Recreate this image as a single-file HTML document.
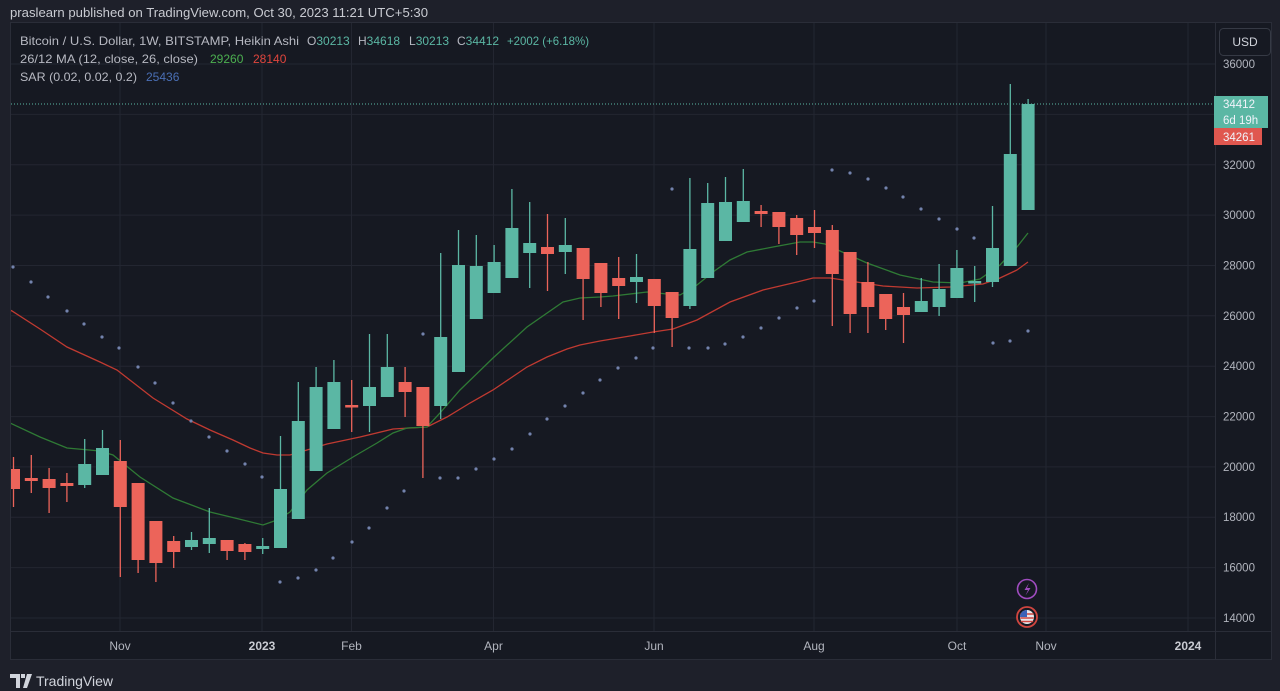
<!DOCTYPE html>
<html><head><meta charset="utf-8"><style>
html,body{margin:0;padding:0;background:#1e202a;}
svg{display:block;font-family:"Liberation Sans",sans-serif;}
</style></head><body>
<svg width="1280" height="691" viewBox="0 0 1280 691" xmlns="http://www.w3.org/2000/svg">
<rect x="0" y="0" width="1280" height="691" fill="#1e202a"/>
<text x="10" y="17" font-size="13" fill="#c9cbd2" textLength="418" lengthAdjust="spacingAndGlyphs">praslearn published on TradingView.com, Oct 30, 2023 11:21 UTC+5:30</text>
<rect x="10.5" y="22.5" width="1261" height="637" fill="#161922" stroke="#2a2d38"/>
<defs><clipPath id="pc"><rect x="11" y="23" width="1204" height="608"/></clipPath></defs>
<g stroke="#232631" stroke-width="1">
<path d="M11 618H1215M11 567.6H1215M11 517.3H1215M11 466.9H1215M11 416.6H1215M11 366.2H1215M11 315.8H1215M11 265.5H1215M11 215.1H1215M11 164.8H1215M11 114.4H1215M11 64H1215"/>
<path d="M120 23V631M262 23V631M351.5 23V631M493.5 23V631M654 23V631M814 23V631M957 23V631M1046 23V631M1188 23V631"/>
</g>
<g stroke="#2a2d38"><path d="M1215.5 23V660M11 631.5H1271"/></g>
<g clip-path="url(#pc)">
<path d="M11 104H1215" stroke="#5bb7a4" stroke-width="1" stroke-dasharray="1 2"/>
<polyline fill="none" stroke="#c03a31" stroke-width="1.3" points="10,310 12,311 40,329 67,347 100,362 117,370 135,384 153,398 187,419 210,430 233,440 250,448 263,453 277,455 290,455 307,450 327,444 360,437 393,429 410,428 427,427 447,417 470,403 493,390 527,367 547,357 567,349 580,345 600,341 630,336 653,332 673,329 697,320 730,302 763,290 797,282 813,278 830,278 850,281 883,286 917,288 950,287 983,284 1000,278 1017,270 1028,262"/>
<polyline fill="none" stroke="#2f7a35" stroke-width="1.3" points="10,423 40,437 67,448 100,451 113,455 140,477 173,498 210,512 243,520 263,525 277,520 290,512 307,490 327,473 353,457 377,443 393,433 407,428 427,427 440,413 460,390 493,358 527,327 563,302 580,298 600,297 613,296 647,292 667,294 680,295 697,285 713,272 730,260 747,252 773,247 800,242 813,242 825,244 840,251 867,263 900,275 933,282 960,283 980,279 1000,265 1017,247 1028,233"/>
<g fill="#7383ad">
<circle cx="13" cy="267" r="1.6"/><circle cx="31" cy="282" r="1.6"/><circle cx="48" cy="297" r="1.6"/><circle cx="67" cy="311" r="1.6"/><circle cx="84" cy="324" r="1.6"/><circle cx="102" cy="337" r="1.6"/><circle cx="119" cy="348" r="1.6"/><circle cx="138" cy="367" r="1.6"/><circle cx="155" cy="383" r="1.6"/><circle cx="173" cy="403" r="1.6"/><circle cx="191" cy="421" r="1.6"/><circle cx="209" cy="437" r="1.6"/><circle cx="227" cy="451" r="1.6"/><circle cx="245" cy="464" r="1.6"/><circle cx="262" cy="477" r="1.6"/>
<circle cx="280" cy="582" r="1.6"/><circle cx="298" cy="578" r="1.6"/><circle cx="316" cy="570" r="1.6"/><circle cx="333" cy="558" r="1.6"/><circle cx="352" cy="542" r="1.6"/><circle cx="369" cy="528" r="1.6"/><circle cx="387" cy="508" r="1.6"/><circle cx="404" cy="491" r="1.6"/>
<circle cx="423" cy="334" r="1.6"/>
<circle cx="440" cy="478" r="1.6"/><circle cx="458" cy="478" r="1.6"/><circle cx="476" cy="469" r="1.6"/><circle cx="494" cy="459" r="1.6"/><circle cx="512" cy="449" r="1.6"/><circle cx="530" cy="434" r="1.6"/><circle cx="547" cy="419" r="1.6"/><circle cx="565" cy="406" r="1.6"/><circle cx="583" cy="393" r="1.6"/><circle cx="600" cy="380" r="1.6"/><circle cx="618" cy="368" r="1.6"/><circle cx="636" cy="358" r="1.6"/><circle cx="653" cy="348" r="1.6"/>
<circle cx="672" cy="189" r="1.6"/>
<circle cx="689" cy="348" r="1.6"/><circle cx="708" cy="348" r="1.6"/><circle cx="725" cy="344" r="1.6"/><circle cx="743" cy="337" r="1.6"/><circle cx="761" cy="328" r="1.6"/><circle cx="779" cy="318" r="1.6"/><circle cx="797" cy="308" r="1.6"/><circle cx="814" cy="301" r="1.6"/>
<circle cx="832" cy="170" r="1.6"/><circle cx="850" cy="173" r="1.6"/><circle cx="868" cy="179" r="1.6"/><circle cx="886" cy="188" r="1.6"/><circle cx="903" cy="197" r="1.6"/><circle cx="921" cy="209" r="1.6"/><circle cx="939" cy="219" r="1.6"/><circle cx="957" cy="229" r="1.6"/><circle cx="974" cy="238" r="1.6"/>
<circle cx="993" cy="343" r="1.6"/><circle cx="1010" cy="341" r="1.6"/><circle cx="1028" cy="331" r="1.6"/>
</g>
<path fill="none" stroke="#5bb7a4" stroke-width="1.3" d="M84.7 439V488M102.5 430V475M191.5 532V550M209.3 508V553M262.7 538V554M280.5 436V548M298.3 382V519M316.1 367V471M333.9 360V429M369.5 334V432M387.3 334V397M440.7 253V419M458.5 230V372M476.3 235V319M494.1 245V293M511.9 189V278M529.7 202V288M565.3 218V274M636.5 254V303M689.9 178V309M707.7 183V278M725.5 177V241M743.3 169V222M921.3 278V312M939.1 264V316M956.9 250V298M974.7 266V302M992.5 206V287M1010.3 84V266M1028.1 99V210"/>
<g fill="#5bb7a4">
<rect x="78.2" y="464" width="13" height="21"/><rect x="96" y="448" width="13" height="27"/><rect x="185" y="540" width="13" height="7"/><rect x="202.8" y="538" width="13" height="6"/><rect x="256.2" y="546" width="13" height="3"/><rect x="274" y="489" width="13" height="59"/><rect x="291.8" y="421" width="13" height="98"/><rect x="309.6" y="387" width="13" height="84"/><rect x="327.4" y="382" width="13" height="47"/><rect x="363" y="387" width="13" height="19"/><rect x="380.8" y="367" width="13" height="30"/><rect x="434.2" y="337" width="13" height="69"/><rect x="452" y="265" width="13" height="107"/><rect x="469.8" y="266" width="13" height="53"/><rect x="487.6" y="262" width="13" height="31"/><rect x="505.4" y="228" width="13" height="50"/><rect x="523.2" y="243" width="13" height="10"/><rect x="558.8" y="245" width="13" height="7"/><rect x="630" y="277" width="13" height="5"/><rect x="683.4" y="249" width="13" height="57"/><rect x="701.2" y="203" width="13" height="75"/><rect x="719" y="202" width="13" height="39"/><rect x="736.8" y="201" width="13" height="21"/><rect x="914.8" y="301" width="13" height="11"/><rect x="932.6" y="289" width="13" height="18"/><rect x="950.4" y="268" width="13" height="30"/><rect x="968.2" y="281" width="13" height="2.5"/><rect x="986" y="248" width="13" height="34"/><rect x="1003.8" y="154" width="13" height="112"/><rect x="1021.6" y="104" width="13" height="106"/>
</g>
<path fill="none" stroke="#ec645a" stroke-width="1.3" d="M13.5 457V507M31.3 455V493M49.1 468V513M66.9 473V502M120.3 440V577M138.1 483V573M155.9 521V582M173.7 536V568M227.1 540V560M244.9 543V560M351.7 380V432M405.1 367V417M422.9 387V478M547.5 214V291M583.1 248V320M600.9 263V307M618.7 257V319M654.3 279V333M672.1 292V347M761.1 205V227M778.9 212V244M796.7 215V255M814.5 210V248M832.3 225V326M850.1 252V333M867.9 262V333M885.7 294V330M903.5 293V343"/>
<g fill="#ec645a">
<rect x="7" y="469" width="13" height="20"/><rect x="24.8" y="478" width="13" height="3"/><rect x="42.6" y="479" width="13" height="9"/><rect x="60.4" y="483" width="13" height="3"/><rect x="113.8" y="461" width="13" height="46"/><rect x="131.6" y="483" width="13" height="77"/><rect x="149.4" y="521" width="13" height="42"/><rect x="167.2" y="541" width="13" height="11"/><rect x="220.6" y="540" width="13" height="11"/><rect x="238.4" y="544" width="13" height="8"/><rect x="345.2" y="405" width="13" height="2.5"/><rect x="398.6" y="382" width="13" height="10"/><rect x="416.4" y="387" width="13" height="39"/><rect x="541" y="247" width="13" height="7"/><rect x="576.6" y="248" width="13" height="31"/><rect x="594.4" y="263" width="13" height="30"/><rect x="612.2" y="278" width="13" height="8"/><rect x="647.8" y="279" width="13" height="27"/><rect x="665.6" y="292" width="13" height="26"/><rect x="754.6" y="211" width="13" height="3"/><rect x="772.4" y="212" width="13" height="15"/><rect x="790.2" y="218" width="13" height="17"/><rect x="808" y="227" width="13" height="6"/><rect x="825.8" y="230" width="13" height="44"/><rect x="843.6" y="252" width="13" height="62"/><rect x="861.4" y="282" width="13" height="25"/><rect x="879.2" y="294" width="13" height="25"/><rect x="897" y="307" width="13" height="8"/>
</g>
<circle cx="1027" cy="589" r="9.5" fill="#161922" stroke="#a04cc0" stroke-width="1.6"/>
<path d="M1029 583L1024.5 590H1028L1025.5 595.5L1030.5 588H1027Z" fill="#a04cc0"/>
<circle cx="1027" cy="617" r="10" fill="#161922" stroke="#d0453f" stroke-width="1.8"/>
<circle cx="1027" cy="617" r="7" fill="#e8e8ee"/>
<path d="M1020.3 614H1033.7M1020.3 618H1033.7M1020.8 621.5H1033.2" stroke="#d0453f" stroke-width="1.5"/>
<path d="M1020 617A7 7 0 0 1 1027 610V617Z" fill="#3c62b8"/>
</g>
<g font-size="12" fill="#b7b9c2">
<text x="20" y="45" textLength="279" lengthAdjust="spacingAndGlyphs">Bitcoin / U.S. Dollar, 1W, BITSTAMP, Heikin Ashi</text>
<text x="307" y="45">O<tspan fill="#5bb7a4">30213</tspan></text>
<text x="358" y="45">H<tspan fill="#5bb7a4">34618</tspan></text>
<text x="409" y="45">L<tspan fill="#5bb7a4">30213</tspan></text>
<text x="457" y="45">C<tspan fill="#5bb7a4">34412</tspan></text>
<text x="507" y="45" fill="#5bb7a4" textLength="82" lengthAdjust="spacingAndGlyphs">+2002 (+6.18%)</text>
<text x="20" y="63" textLength="178" lengthAdjust="spacingAndGlyphs">26/12 MA (12, close, 26, close)</text>
<text x="210" y="63" fill="#4caf50">29260</text>
<text x="253" y="63" fill="#e0453d">28140</text>
<text x="20" y="81" textLength="117" lengthAdjust="spacingAndGlyphs">SAR (0.02, 0.02, 0.2)</text>
<text x="146" y="81" fill="#4a6fb5">25436</text>
</g>
<rect x="1219.5" y="28.5" width="51" height="27" rx="4" fill="#161922" stroke="#363a45"/>
<text x="1245" y="46" font-size="12" fill="#d1d4dc" text-anchor="middle">USD</text>
<g font-size="11.5" fill="#b2b5be">
<text x="1223" y="68">36000</text>
<text x="1223" y="169">32000</text>
<text x="1223" y="219">30000</text>
<text x="1223" y="269.5">28000</text>
<text x="1223" y="320">26000</text>
<text x="1223" y="370">24000</text>
<text x="1223" y="420.5">22000</text>
<text x="1223" y="471">20000</text>
<text x="1223" y="521">18000</text>
<text x="1223" y="571.5">16000</text>
<text x="1223" y="622">14000</text>
</g>
<rect x="1214" y="96" width="54" height="32" fill="#5bb7a4"/>
<text x="1223" y="108" font-size="11.5" fill="#f0f3fa">34412</text>
<text x="1223" y="124" font-size="11.5" fill="#f0f3fa">6d 19h</text>
<rect x="1214" y="128" width="48" height="17" fill="#e0574f"/>
<text x="1223" y="141" font-size="11.5" fill="#f0f3fa">34261</text>
<g font-size="12" fill="#b2b5be" text-anchor="middle">
<text x="120" y="650">Nov</text>
<text x="262" y="650" font-weight="bold" fill="#c9cbd2">2023</text>
<text x="351.5" y="650">Feb</text>
<text x="493.5" y="650">Apr</text>
<text x="654" y="650">Jun</text>
<text x="814" y="650">Aug</text>
<text x="957" y="650">Oct</text>
<text x="1046" y="650">Nov</text>
<text x="1188" y="650" font-weight="bold" fill="#c9cbd2">2024</text>
</g>
<path d="M10 674H20V688H16V678H10Z M21 674H25V678H21Z M27 674H32L27 688H23Z" fill="#d1d4dc"/>
<text x="36" y="686" font-size="14" fill="#d1d4dc" textLength="77" lengthAdjust="spacingAndGlyphs">TradingView</text>
</svg>
</body></html>
